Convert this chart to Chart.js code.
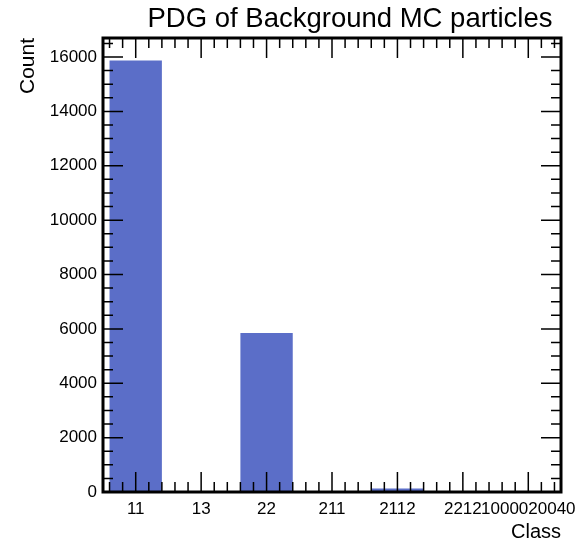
<!DOCTYPE html>
<html>
<head>
<meta charset="utf-8">
<script src="https://cdn.jsdelivr.net/npm/chart.js@4"></script>
<style>
  html, body { margin: 0; padding: 0; background: #fff; }
</style>
</head>
<body>
<canvas id="chart" width="577" height="541"></canvas>
<script>
// PDG classes and counts
const classes = ["11", "13", "22", "211", "2112", "2212", "1000020040"];
const counts = [15870, 0, 5850, 0, 130, 0, 0];
const yTicks = [0, 2000, 4000, 6000, 8000, 10000, 12000, 14000, 16000];
const yMax = 16700;

const barColor = "#5b6ec8";
const fontFamily = "'Liberation Sans', Arial, Helvetica, sans-serif";
const titleText = "PDG of Background MC particles";

// inward ticks on all four sides + thick frame, like the ROOT style
const frameTicks = {
  id: "frameTicks",
  afterDatasetsDraw(chart) {
    const ctx = chart.ctx;
    const area = chart.chartArea;
    const xs = chart.scales.x;
    const ys = chart.scales.y;
    ctx.save();
    ctx.strokeStyle = "#000";
    ctx.lineWidth = 1.5;
    ctx.beginPath();
    for (let v = 0; v <= ys.max; v += 500) {
      const y = ys.getPixelForValue(v);
      const len = v % 2000 === 0 ? 20 : 10;
      ctx.moveTo(area.left, y);
      ctx.lineTo(area.left + len, y);
      ctx.moveTo(area.right, y);
      ctx.lineTo(area.right - len, y);
    }
    for (let k = -2; k <= 32; k++) {
      const x = xs.getPixelForValue(k / 5);
      const len = k % 5 === 0 ? 20 : 10;
      ctx.moveTo(x, area.bottom);
      ctx.lineTo(x, area.bottom - len);
      ctx.moveTo(x, area.top);
      ctx.lineTo(x, area.top + len);
    }
    ctx.stroke();
    ctx.lineWidth = 3;
    ctx.strokeRect(area.left, area.top, area.right - area.left, area.bottom - area.top);

    // title, sits a bit right of the axes centre
    ctx.fillStyle = "#000";
    ctx.font = "27.5px " + fontFamily;
    ctx.textAlign = "center";
    ctx.textBaseline = "middle";
    ctx.fillText(titleText, 350, 19);
    ctx.restore();
  }
};

const ctx = document.getElementById("chart").getContext("2d");
const chart = new Chart(ctx, {
  type: "bar",
  data: {
    labels: classes,
    datasets: [
      {
        label: "PDG",
        data: counts,
        backgroundColor: barColor,
        borderWidth: 0,
        barPercentage: 0.8,
        categoryPercentage: 1.0,
      },
    ],
  },
  options: {
    responsive: false,
    animation: false,
    layout: { padding: { left: 0, right: 16, top: 38, bottom: 0 } },
    plugins: {
      legend: { display: false },
      tooltip: { enabled: false },
      title: { display: false },
    },
    scales: {
      x: {
        grid: { display: false, drawTicks: false },
        border: { display: false },
        ticks: {
          autoSkip: false,
          maxRotation: 0,
          minRotation: 0,
          padding: 7,
          color: "#000",
          font: { family: fontFamily, size: 17 },
        },
        title: {
          display: true,
          text: "Class",
          align: "end",
          color: "#000",
          font: { family: fontFamily, size: 20 },
          padding: { top: 0, bottom: -3 },
        },
        afterFit(scale) {
          scale.height = 49;
          scale.paddingLeft = 0;
          scale.paddingRight = 0;
        },
      },
      y: {
        min: 0,
        max: yMax,
        grid: { display: false, drawTicks: false },
        border: { display: false },
        afterBuildTicks(scale) {
          scale.ticks = yTicks.map((v) => ({ value: v }));
        },
        ticks: {
          autoSkip: false,
          padding: 6,
          color: "#000",
          font: { family: fontFamily, size: 17 },
          callback: (v) => String(v),
        },
        title: {
          display: true,
          text: "Count",
          align: "end",
          color: "#000",
          font: { family: fontFamily, size: 21 },
          padding: { top: 16, bottom: 0 },
        },
        afterFit(scale) {
          scale.width = 103;
          scale.paddingTop = 0;
          scale.paddingBottom = 0;
        },
      },
    },
  },
  plugins: [frameTicks],
});
</script>
</body>
</html>
